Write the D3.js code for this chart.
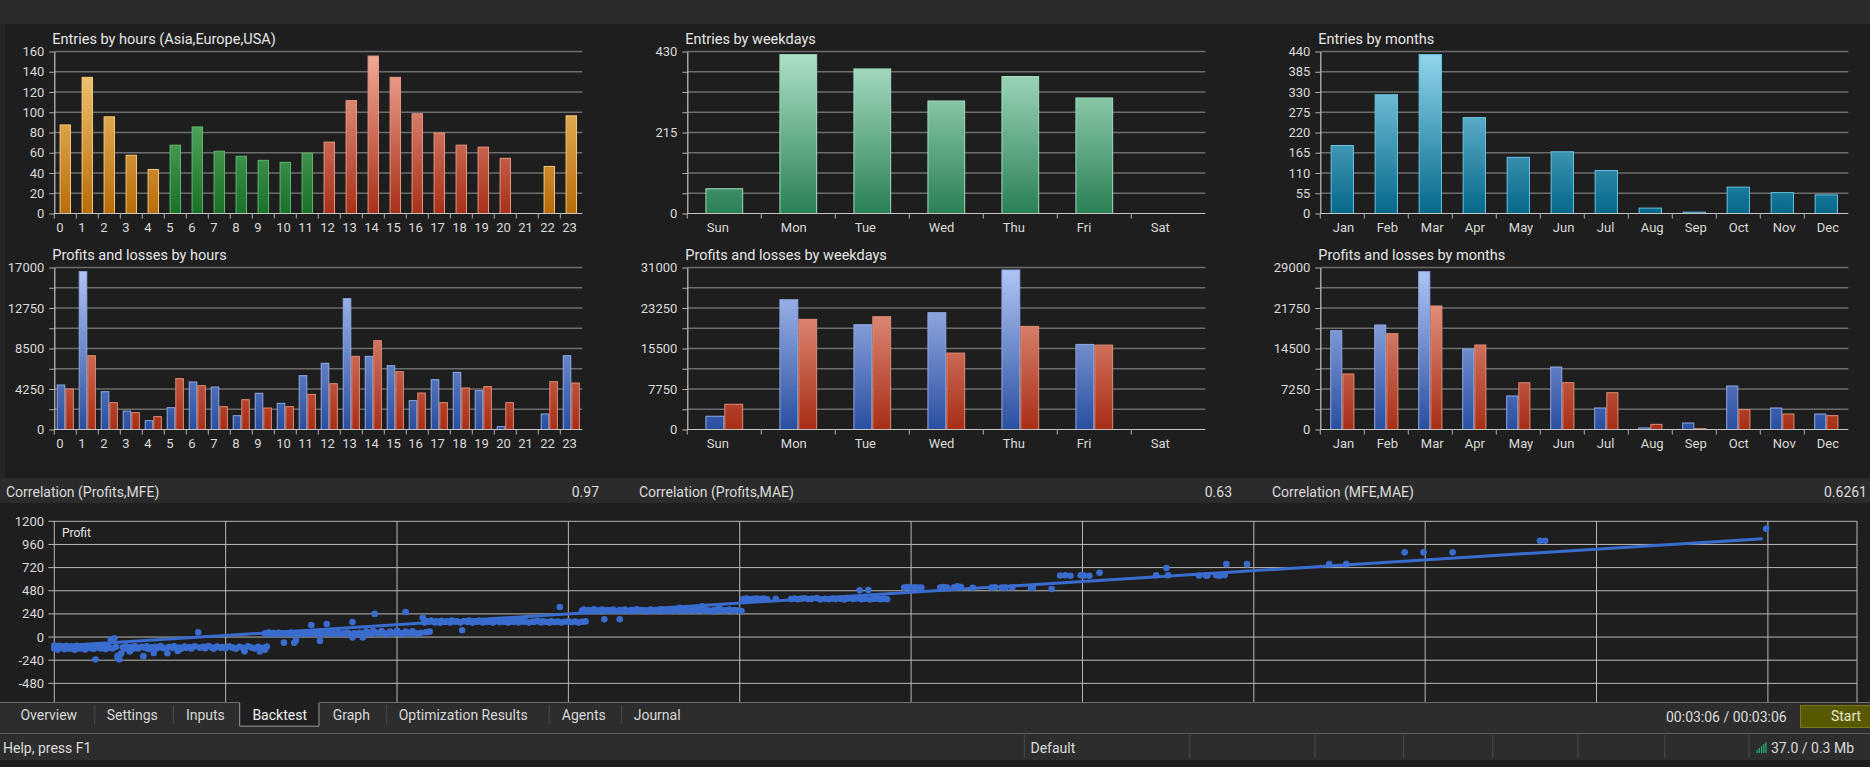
<!DOCTYPE html>
<html>
<head>
<meta charset="utf-8">
<script src="https://cdn.jsdelivr.net/npm/d3@7"></script>
<style>
  body { margin: 0; background: #1e1e1e; overflow: hidden; }
  svg { display: block; font-family: Roboto, "Noto Sans", sans-serif; }
</style>
</head>
<body>
<svg id="chart" width="1870" height="767"></svg>
<script>
// ---- data ----
const hourLabels = ['0','1','2','3','4','5','6','7','8','9','10','11','12','13','14','15','16','17','18','19','20','21','22','23']
const hourSessions = ['asia','asia','asia','asia','asia','europe','europe','europe','europe','europe','europe','europe',
  'usa','usa','usa','usa','usa','usa','usa','usa','usa','usa','asia','asia']
const entriesByHour = [88,135,96,58,44,68,86,62,57,53,51,60,71,112,156,135,99,80,68,66,55,0,47,97]
const profitByHour = [4720,16620,4020,1990,980,2340,5040,4510,1500,3850,2800,5700,7000,13780,7730,6750,3080,5280,6050,4130,350,0,1680,7800]
const lossByHour = [4300,7800,2870,1820,1400,5390,4650,2450,3180,2310,2450,3740,4860,7730,9370,6120,3880,2870,4410,4550,2870,0,5070,4930]

const weekdayLabels = ['Sun','Mon','Tue','Wed','Thu','Fri','Sat']
const entriesByWeekday = [67,423,385,300,365,308,0]
const profitByWeekday = [2630,24930,20150,22450,30620,16380,0]
const lossByWeekday = [4920,21170,21680,14720,19830,16250,0]

const monthLabels = ['Jan','Feb','Mar','Apr','May','Jun','Jul','Aug','Sep','Oct','Nov','Dec']
const entriesByMonth = [186,324,433,262,154,169,118,16,5,73,58,52]
const profitByMonth = [17780,18800,28340,14500,6090,11280,3940,360,1250,7880,3940,2860]
const lossByMonth = [10030,17250,22200,15220,8470,8470,6680,1010,240,3640,2860,2570]

// y tick labels shown on each chart
const entriesHourTicks = [0,20,40,60,80,100,120,140,160]
const profitHourTicks = [0,4250,8500,12750,17000]
const entriesWeekdayTicks = [0,215,430]
const profitWeekdayTicks = [0,7750,15500,23250,31000]
const entriesMonthTicks = [0,55,110,165,220,275,330,385,440]
const profitMonthTicks = [0,7250,14500,21750,29000]

const correlations = [
  {label: 'Correlation (Profits,MFE)', value: '0.97'},
  {label: 'Correlation (Profits,MAE)', value: '0.63'},
  {label: 'Correlation (MFE,MAE)', value: '0.6261'}
]

// scatter: [MFE, Profit]
const tradePoints = [
  [0,-88],[0,-118],[1,-100],[2,-130],[3,-92],[4,-112],[5,-98],[6,-125],[7,-90],[8,-108],[9,-120],[10,-95],
  [11,-110],[12,-132],[13,-92],[14,-105],[15,-118],[16,-96],[17,-112],[18,-128],[19,-94],[20,-106],[21,-116],
  [22,-100],[23,-122],[24,-232],[25,-95],[26,-110],[27,-118],[28,-98],[29,-108],[30,-125],[31,-92],[32,-110],
  [33,-28],[34,-118],[35,-12],[36,-100],[37,-195],[37,-218],[38,-232],[39,-172],[40,-105],[41,-120],[42,-96],
  [43,-112],[44,-150],[45,-104],[46,-122],[47,-96],[48,-110],[49,-118],[51,-100],[52,-198],[53,-112],[54,-96],
  [55,-124],[57,-106],[58,-165],[59,-100],[60,-116],[62,-94],[63,-110],[65,-122],[66,-168],[67,-100],[69,-112],
  [70,-96],[72,-145],[73,-108],[74,-120],[76,-98],[77,-112],[79,-104],[80,-118],[82,-96],[84,48],[85,-110],
  [87,-100],[88,-116],[90,-94],[92,-108],[93,-120],[95,-98],[97,-112],[98,-104],[100,-116],[102,-96],[104,-110],
  [106,-120],[108,-100],[110,-112],[111,-148],[113,-96],[115,-108],[117,-118],[119,-100],[120,-150],[122,-112],
  [123,-130],[124,-98],
  [123,40],[124,28],[125,46],[127,34],[128,42],[130,30],[131,44],[133,36],[134,-58],[135,40],[137,30],[138,46],
  [140,-60],[140,36],[141,-35],[142,28],[144,42],[145,34],[147,46],[148,30],[150,125],[150,40],[152,34],[153,44],
  [155,-40],[155,30],[157,40],[158,36],[159,135],[160,46],[162,30],[163,40],[165,36],[166,44],[168,32],[169,40],
  [171,46],[172,34],[174,155],[174,-5],[175,40],[177,30],[178,44],[180,-5],[180,36],[182,60],[183,40],[185,32],
  [186,66],[187,240],[188,44],[190,36],[191,62],[193,40],[194,30],[196,58],[197,44],[199,36],[200,64],[202,40],
  [203,30],[205,260],[205,56],[206,44],[208,36],[209,60],[211,40],[212,32],[214,44],[215,200],[217,50],[219,56],
  [216,150],[217,165],[219,158],[220,170],[222,152],[223,162],[225,148],[226,168],[228,156],[229,162],[231,150],
  [232,172],[234,158],[235,164],[237,152],[238,70],[239,166],[241,156],[242,170],[244,150],[245,162],[247,158],
  [248,172],[250,152],[251,164],[253,156],[254,168],[256,150],[257,160],[259,176],[260,154],[262,166],[263,158],
  [265,150],[266,170],[268,156],[269,162],[271,152],[272,178],[274,158],[275,164],[277,150],[279,160],[280,156],
  [282,168],[284,152],[285,162],[287,158],[289,150],[290,164],[292,156],[294,160],[295,312],[296,152],[298,158],
  [300,162],[302,154],[304,160],[306,150],[308,158],[310,162],
  [308,272],[309,284],[311,268],[312,280],[314,274],[315,288],[317,266],[318,278],[320,284],[321,184],[322,270],
  [323,280],[325,274],[326,286],[328,268],[330,184],[330,280],[331,272],[333,284],[334,276],[336,268],[337,282],
  [339,274],[340,288],[342,270],[343,280],[345,276],[346,266],[348,284],[349,274],[351,280],[352,270],[354,288],
  [355,276],[357,268],[358,282],[360,274],[361,286],[363,270],[364,280],[365,304],[367,274],[368,284],[370,268],
  [371,278],[373,286],[374,272],[376,280],[378,318],[379,270],[380,284],[382,276],[384,266],[385,280],[387,274],
  [388,300],[389,286],[391,270],[392,278],[394,284],[396,272],[397,280],[399,276],[401,270],
  [402,394],[404,398],[406,392],[408,396],[410,400],[412,394],[414,398],[416,392],[421,396],[430,394],[432,400],
  [434,392],[436,398],[438,402],[440,394],[442,396],[445,404],[447,390],[450,396],[452,392],[454,400],[456,394],
  [459,398],[461,390],[463,400],[466,394],[468,400],[470,484],[471,392],[473,398],[475,488],[476,390],[478,396],
  [480,400],[482,392],[484,398],[486,392],
  [496,514],[498,518],[500,512],[502,516],[504,514],[506,512],[517,514],[519,518],[521,512],[525,516],[527,526],
  [529,518],[536,510],[547,512],[549,516],[553,514],[555,512],[559,514],[570,508],[571,512],[582,498],
  [587,638],[590,640],[593,636],[599,640],[601,638],[604,636],[610,666],[643,640],[649,716],[650,640],[668,638],
  [672,638],[673,638],[678,640],[680,636],[683,642],[684,756],[696,756],[744,756],[754,756],[788,878],[799,878],
  [816,878],[867,998],[870,998],[999,1122]
]
const regressionLine = [[0,-95],[997,1020]]
const scatterYGrid = [-720,-480,-240,0,240,480,720,960,1200]
const scatterYLabels = [-480,-240,0,240,480,720,960,1200]
const scatterXGrid = [0,100,200,300,400,500,600,700,800,900,1000,1052]

const tabNames = ['Overview','Settings','Inputs','Backtest','Graph','Optimization Results','Agents','Journal']
const activeTab = 'Backtest'

// ---- drawing ----
const svg = d3.select('#chart')
const defs = svg.append('defs')

const palettes = {
  asia:    {top: '#f8d080', bottom: '#b86c08', stroke: '#f2c67a'},
  europe:  {top: '#7ccc8a', bottom: '#1a7028', stroke: '#5cb86c'},
  usa:     {top: '#f2ac9a', bottom: '#a83018', stroke: '#e89580'},
  weekday: {top: '#aee2c8', bottom: '#2a8055', stroke: '#a0dcc0'},
  month:   {top: '#92d8ee', bottom: '#06688a', stroke: '#66c4e2'},
  profit:  {top: '#b2c6f6', bottom: '#2a4fa0', stroke: '#8eaae6'},
  loss:    {top: '#f0aa98', bottom: '#a82e16', stroke: '#e08c74'}
}

let gradCount = 0
function gradient(pal, y1, y2) {
  const id = 'grad' + (gradCount++)
  const lg = defs.append('linearGradient').attr('id', id)
    .attr('gradientUnits', 'userSpaceOnUse')
    .attr('x1', 0).attr('x2', 0).attr('y1', y1).attr('y2', y2)
  lg.append('stop').attr('offset', 0).attr('stop-color', pal.top)
  lg.append('stop').attr('offset', 1).attr('stop-color', pal.bottom)
  return `url(#${id})`
}

// backgrounds
svg.append('rect').attr('width', 1870).attr('height', 767).attr('fill', '#1e1e1e')
svg.append('rect').attr('width', 1870).attr('height', 24).attr('fill', '#2a2a2a')
svg.append('rect').attr('y', 24).attr('width', 5).attr('height', 454).attr('fill', '#242424')

function barChart(opt) {
  const {left, top, width, height, title, labels, ymax, yLabels, labelX, series, frac} = opt
  const g = svg.append('g')
  const x = d3.scaleBand().domain(labels).range([left, left + width])
  const y = d3.scaleLinear().domain([0, ymax]).range([top + height, top])
  const grid = d3.range(9).map(i => ymax * i / 8)

  // gridlines
  g.append('g').selectAll('line').data(grid.slice(1)).join('line')
    .attr('x1', left).attr('x2', left + width)
    .attr('y1', d => y(d)).attr('y2', d => y(d))
    .attr('stroke', '#6c6c6c').attr('stroke-width', 1.5)

  // y axis
  const yAxis = d3.axisLeft(y).tickValues(grid).tickSize(5).tickSizeOuter(0).tickPadding(5)
    .tickFormat(d => yLabels.some(v => Math.abs(v - d) < 1e-6) ? d3.format('d')(d) : '')
  const ya = g.append('g').attr('transform', `translate(${left},0)`).call(yAxis)
  ya.select('.domain').attr('stroke', '#c4c4c4').attr('stroke-width', 1.2)
  ya.selectAll('.tick line').attr('stroke', '#b0b0b0')
  ya.selectAll('text').attr('fill', '#dadada').attr('font-size', 13).attr('font-family', 'Roboto, sans-serif')

  // bars
  const bw = x.bandwidth() * frac
  const n = series.length
  series.forEach((s, k) => {
    const fills = {}
    g.append('g').selectAll('rect')
      .data(s.values.map((v, i) => ({v, i})).filter(d => d.v > 0))
      .join('rect')
      .attr('x', d => x(labels[d.i]) + (x.bandwidth() - bw) / 2 + k * bw / n + 0.5)
      .attr('width', bw / n - 1)
      .attr('y', d => y(d.v) + 0.5)
      .attr('height', d => y(0) - y(d.v) - 0.5)
      .attr('fill', d => {
        const key = s.palette(d.i)
        if (!fills[key]) fills[key] = gradient(palettes[key], top, top + height)
        return fills[key]
      })
      .attr('stroke', d => palettes[s.palette(d.i)].stroke)
      .attr('stroke-width', 1)
  })

  // x axis line, ticks at band starts, labels
  g.append('line')
    .attr('x1', left).attr('x2', left + width)
    .attr('y1', y(0)).attr('y2', y(0))
    .attr('stroke', '#c4c4c4').attr('stroke-width', 1.2)
  g.append('g').selectAll('line').data(labels).join('line')
    .attr('x1', d => x(d)).attr('x2', d => x(d))
    .attr('y1', y(0)).attr('y2', y(0) + 5)
    .attr('stroke', '#b0b0b0')
  g.append('g').selectAll('text').data(labels).join('text')
    .attr('x', d => x(d) + labelX)
    .attr('y', y(0) + 18.5)
    .attr('fill', '#dadada').attr('font-size', 13)
    .text(d => d)

  g.append('text').attr('x', left - 2).attr('y', top - 8)
    .attr('fill', '#e6e6e6').attr('font-size', 14.5)
    .text(title)
}

const cols = [
  {left: 54.3, width: 528},
  {left: 687.3, width: 518},
  {left: 1320.3, width: 528}
]
const rows = [{top: 51.5, height: 162}, {top: 267.5, height: 162}]

barChart({...cols[0], ...rows[0], title: 'Entries by hours (Asia,Europe,USA)', labels: hourLabels,
  ymax: 160, yLabels: entriesHourTicks, labelX: 2, frac: 0.52,
  series: [{values: entriesByHour, palette: i => hourSessions[i]}]})
barChart({...cols[0], ...rows[1], title: 'Profits and losses by hours', labels: hourLabels,
  ymax: 17000, yLabels: profitHourTicks, labelX: 2, frac: 0.78,
  series: [{values: profitByHour, palette: () => 'profit'}, {values: lossByHour, palette: () => 'loss'}]})
barChart({...cols[1], ...rows[0], title: 'Entries by weekdays', labels: weekdayLabels,
  ymax: 430, yLabels: entriesWeekdayTicks, labelX: 19.5, frac: 0.51,
  series: [{values: entriesByWeekday, palette: () => 'weekday'}]})
barChart({...cols[1], ...rows[1], title: 'Profits and losses by weekdays', labels: weekdayLabels,
  ymax: 31000, yLabels: profitWeekdayTicks, labelX: 19.5, frac: 0.51,
  series: [{values: profitByWeekday, palette: () => 'profit'}, {values: lossByWeekday, palette: () => 'loss'}]})
barChart({...cols[2], ...rows[0], title: 'Entries by months', labels: monthLabels,
  ymax: 440, yLabels: entriesMonthTicks, labelX: 12.5, frac: 0.53,
  series: [{values: entriesByMonth, palette: () => 'month'}]})
barChart({...cols[2], ...rows[1], title: 'Profits and losses by months', labels: monthLabels,
  ymax: 29000, yLabels: profitMonthTicks, labelX: 12.5, frac: 0.55,
  series: [{values: profitByMonth, palette: () => 'profit'}, {values: lossByMonth, palette: () => 'loss'}]})

// correlation strip
svg.append('rect').attr('y', 478).attr('width', 1870).attr('height', 25).attr('fill', '#2b2b2b')
const corrCols = [{x: 6, r: 599}, {x: 639, r: 1232}, {x: 1272, r: 1867}]
correlations.forEach((c, i) => {
  svg.append('text').attr('x', corrCols[i].x).attr('y', 497)
    .attr('fill', '#dcdcdc').attr('font-size', 14).text(c.label)
  svg.append('text').attr('x', corrCols[i].r).attr('y', 497).attr('text-anchor', 'end')
    .attr('fill', '#dcdcdc').attr('font-size', 14).text(c.value)
})

// scatter Profit vs MFE
const sx = d3.scaleLinear().domain([0, 1052]).range([54.3, 1857])
const sy = d3.scaleLinear().domain([-720, 1200]).range([706.5, 521.3])
const sg = svg.append('g')
sg.append('g').selectAll('line').data(scatterYGrid).join('line')
  .attr('x1', sx(0) - 6).attr('x2', sx(1052))
  .attr('y1', d => sy(d)).attr('y2', d => sy(d))
  .attr('stroke', '#b8b8b8').attr('stroke-width', 1)
sg.append('g').selectAll('line').data(scatterXGrid).join('line')
  .attr('x1', d => sx(d)).attr('x2', d => sx(d))
  .attr('y1', sy(1200)).attr('y2', sy(-720))
  .attr('stroke', '#b8b8b8').attr('stroke-width', 1)
sg.append('g').selectAll('text').data(scatterYLabels).join('text')
  .attr('x', 44).attr('y', d => sy(d)).attr('dy', '0.35em')
  .attr('text-anchor', 'end').attr('fill', '#dadada').attr('font-size', 13)
  .text(d => d)
sg.append('text').attr('x', 62).attr('y', 537).attr('fill', '#e6e6e6').attr('font-size', 12).text('Profit')
sg.append('g').selectAll('circle').data(tradePoints).join('circle')
  .attr('cx', d => sx(d[0])).attr('cy', d => sy(d[1])).attr('r', 3.3)
  .attr('fill', '#3a6ccf')
sg.append('path').datum(regressionLine)
  .attr('d', d3.line().x(d => sx(d[0])).y(d => sy(d[1])))
  .attr('stroke', '#3a6ccf').attr('stroke-width', 3).attr('fill', 'none')

// tab bar
svg.append('rect').attr('y', 702).attr('width', 1870).attr('height', 31).attr('fill', '#2d2d2d')
svg.append('line').attr('x1', 0).attr('x2', 1870).attr('y1', 702.5).attr('y2', 702.5).attr('stroke', '#6e6e6e')
const tabX = [20.4, 106.7, 185.9, 252.4, 332.7, 398.7, 561.8, 633.7]
const tabSeps = [94.7, 173.3, 386.7, 549.2, 621.7]
svg.append('rect').attr('x', 239.2).attr('y', 702).attr('width', 80.3).attr('height', 24.7).attr('fill', '#1f1f1f')
svg.append('path').attr('d', 'M239.7,702V726.2H319V702').attr('fill', 'none').attr('stroke', '#9a9a9a')
svg.append('line').attr('x1', 239.7).attr('x2', 319).attr('y1', 702.5).attr('y2', 702.5).attr('stroke', '#1f1f1f')
svg.append('g').selectAll('line').data(tabSeps).join('line')
  .attr('x1', d => d).attr('x2', d => d).attr('y1', 705).attr('y2', 724).attr('stroke', '#4a4a4a')
svg.append('g').selectAll('text').data(tabNames).join('text')
  .attr('x', (d, i) => tabX[i]).attr('y', 720)
  .attr('fill', d => d === activeTab ? '#f0f0f0' : '#d8d8d8').attr('font-size', 14)
  .text(d => d)
svg.append('text').attr('x', 1666).attr('y', 722).attr('fill', '#dcdcdc').attr('font-size', 14).text('00:03:06 / 00:03:06')
svg.append('rect').attr('x', 1800.5).attr('y', 705.5).attr('width', 70).attr('height', 22)
  .attr('fill', '#585800').attr('stroke', '#7a7a1a')
svg.append('text').attr('x', 1846).attr('y', 721).attr('text-anchor', 'middle')
  .attr('fill', '#e8e8d0').attr('font-size', 14).text('Start')

// status bar
svg.append('rect').attr('y', 733).attr('width', 1870).attr('height', 27).attr('fill', '#2d2d2d')
svg.append('line').attr('x1', 0).attr('x2', 1870).attr('y1', 733.5).attr('y2', 733.5).attr('stroke', '#5e5e5e')
svg.append('rect').attr('y', 760).attr('width', 1870).attr('height', 7).attr('fill', '#1e1e1e')
const statusSeps = [1024.4, 1189.8, 1315, 1403.5, 1492.8, 1578, 1664.8, 1749]
svg.append('g').selectAll('line').data(statusSeps).join('line')
  .attr('x1', d => d).attr('x2', d => d).attr('y1', 735).attr('y2', 758).attr('stroke', '#4a4a4a')
svg.append('text').attr('x', 3).attr('y', 753).attr('fill', '#dcdcdc').attr('font-size', 14).text('Help, press F1')
svg.append('text').attr('x', 1030.5).attr('y', 753).attr('fill', '#dcdcdc').attr('font-size', 14).text('Default')
const signal = [3, 5, 7, 9, 11]
svg.append('g').selectAll('rect').data(signal).join('rect')
  .attr('x', (d, i) => 1756.5 + i * 2.2).attr('y', d => 753 - d).attr('width', 1.3).attr('height', d => d)
  .attr('fill', '#22a877')
svg.append('text').attr('x', 1771).attr('y', 753).attr('fill', '#dcdcdc').attr('font-size', 14).text('37.0 / 0.3 Mb')
</script>
</body>
</html>
